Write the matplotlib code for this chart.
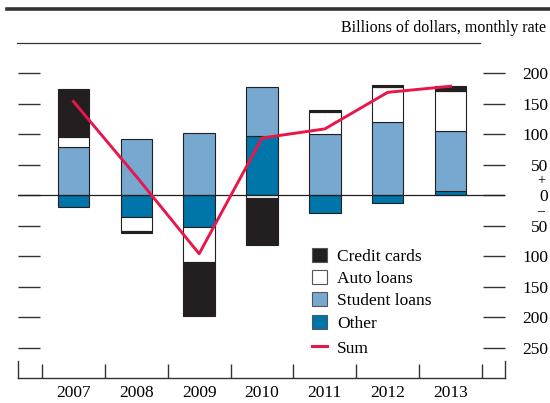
import matplotlib
matplotlib.use("Agg")
import matplotlib.pyplot as plt
from matplotlib.patches import Patch
from matplotlib.lines import Line2D
import numpy as np

plt.rcParams["font.family"] = ["Liberation Serif", "DejaVu Serif"]

YEARS = ["2007", "2008", "2009", "2010", "2011", "2012", "2013"]
CREDIT_CARDS = [79, -3, -90, -78, 3, 4, 9]
AUTO_LOANS = [16, -23, -57, -4, 37, 57, 66]
STUDENT_LOANS = [80, 93, 102, 80, 100, 120, 98]
OTHER = [-20, -36, -52, 97, -29, -13, 7]
SUM = [154, 31, -96, 94, 109, 169, 179]

Y_TICKS = [200, 150, 100, 50, 0, -50, -100, -150, -200, -250]

COLORS = {
    "Other": "#0075a9",
    "Student loans": "#77a8cf",
    "Auto loans": "#ffffff",
    "Credit cards": "#231f20",
}
SUM_COLOR = "#e8174b"
EDGE = "#231f20"

fig = plt.figure(figsize=(5.5, 4.03), dpi=100)
W, H = 550, 403
ax = fig.add_axes([18 / W, 1 - 378 / H, 487 / W, 335 / H])

x = np.arange(len(YEARS))
width = 0.5

# stack outward from zero: other, student, auto, credit
series = [("Other", OTHER), ("Student loans", STUDENT_LOANS),
          ("Auto loans", AUTO_LOANS), ("Credit cards", CREDIT_CARDS)]
pos_base = np.zeros(len(YEARS))
neg_base = np.zeros(len(YEARS))
for name, vals in series:
    vals = np.array(vals, dtype=float)
    base = np.where(vals >= 0, pos_base, neg_base)
    ax.bar(x, vals, width, bottom=base, color=COLORS[name],
           edgecolor=EDGE, linewidth=0.8, zorder=2)
    pos_base = pos_base + np.where(vals >= 0, vals, 0)
    neg_base = neg_base + np.where(vals < 0, vals, 0)

ax.plot(x, SUM, color=SUM_COLOR, linewidth=2.1, zorder=4)
ax.axhline(0, color=EDGE, linewidth=0.9, zorder=3)

xmin, xmax = -0.882, 6.866
ax.set_xlim(xmin, xmax)
ax.set_ylim(-300, 250)

for side in ["top", "left", "right"]:
    ax.spines[side].set_visible(False)
ax.spines["bottom"].set_linewidth(1.0)
ax.spines["bottom"].set_color("#333333")

# x axis: year names centred, ticks on the boundaries
ax.set_xticks(x)
ax.set_xticklabels(YEARS, fontsize=12.5)
ax.tick_params(axis="x", which="major", length=0, pad=5)
ax.set_xticks(list(np.arange(-0.5, len(YEARS), 1.0)), minor=True)
ax.tick_params(axis="x", which="minor", direction="in", length=10,
               width=1.0, color="#333333")
for xe in (xmin, xmax):
    ax.plot([xe, xe], [0, 17 / 335], transform=ax.get_xaxis_transform(),
            color="#333333", linewidth=1.0, clip_on=False)

# y axis: inward ticks both sides, labels on the right
ax.set_yticks(Y_TICKS)
ax.set_yticklabels([str(abs(v)) for v in Y_TICKS])
ax.tick_params(axis="y", direction="in", length=16, width=1.0,
               color="#333333", left=True, right=True,
               labelleft=False, labelright=True, labelsize=12.5, pad=31)
for lbl in ax.get_yticklabels():
    lbl.set_horizontalalignment("right")

# small +/- signs between the 50 and 0 labels
ytr = ax.get_yaxis_transform()
sx = (541 - 18) / 487
ax.text(sx, 19, "+", transform=ytr, ha="center", va="baseline",
        fontsize=10)
ax.text(sx, -32, "\u2013", transform=ytr, ha="center", va="baseline",
        fontsize=10)

# header rules and unit label
fig.add_artist(Line2D([7 / W, 1.0], [1 - 9 / H, 1 - 9 / H],
                      color="#333333", linewidth=2.6))
fig.add_artist(Line2D([17 / W, 480 / W], [1 - 43 / H, 1 - 43 / H],
                      color="#333333", linewidth=0.9))
fig.text(546 / W, 1 - 28 / H, "Billions of dollars, monthly rate",
         ha="right", va="center", fontsize=11.5)

legend_kw = dict(loc="upper left", bbox_transform=fig.transFigure,
                 frameon=False, fontsize=12.5, handlelength=0.86,
                 handleheight=0.86, handletextpad=0.6, labelspacing=0.3,
                 borderpad=0, borderaxespad=0)
names = ["Credit cards", "Auto loans", "Student loans", "Other"]
handles = [Patch(facecolor=COLORS[n], edgecolor="#555555", linewidth=0.8)
           for n in names]
leg = ax.legend(handles, names, bbox_to_anchor=(312 / W, 1 - 248 / H),
                **legend_kw)
ax.add_artist(leg)
ax.legend([Line2D([], [], color=SUM_COLOR, linewidth=2.2)], ["Sum"],
          bbox_to_anchor=(312 / W, 1 - 340 / H), **legend_kw)

fig.savefig("out.png", dpi=100)
